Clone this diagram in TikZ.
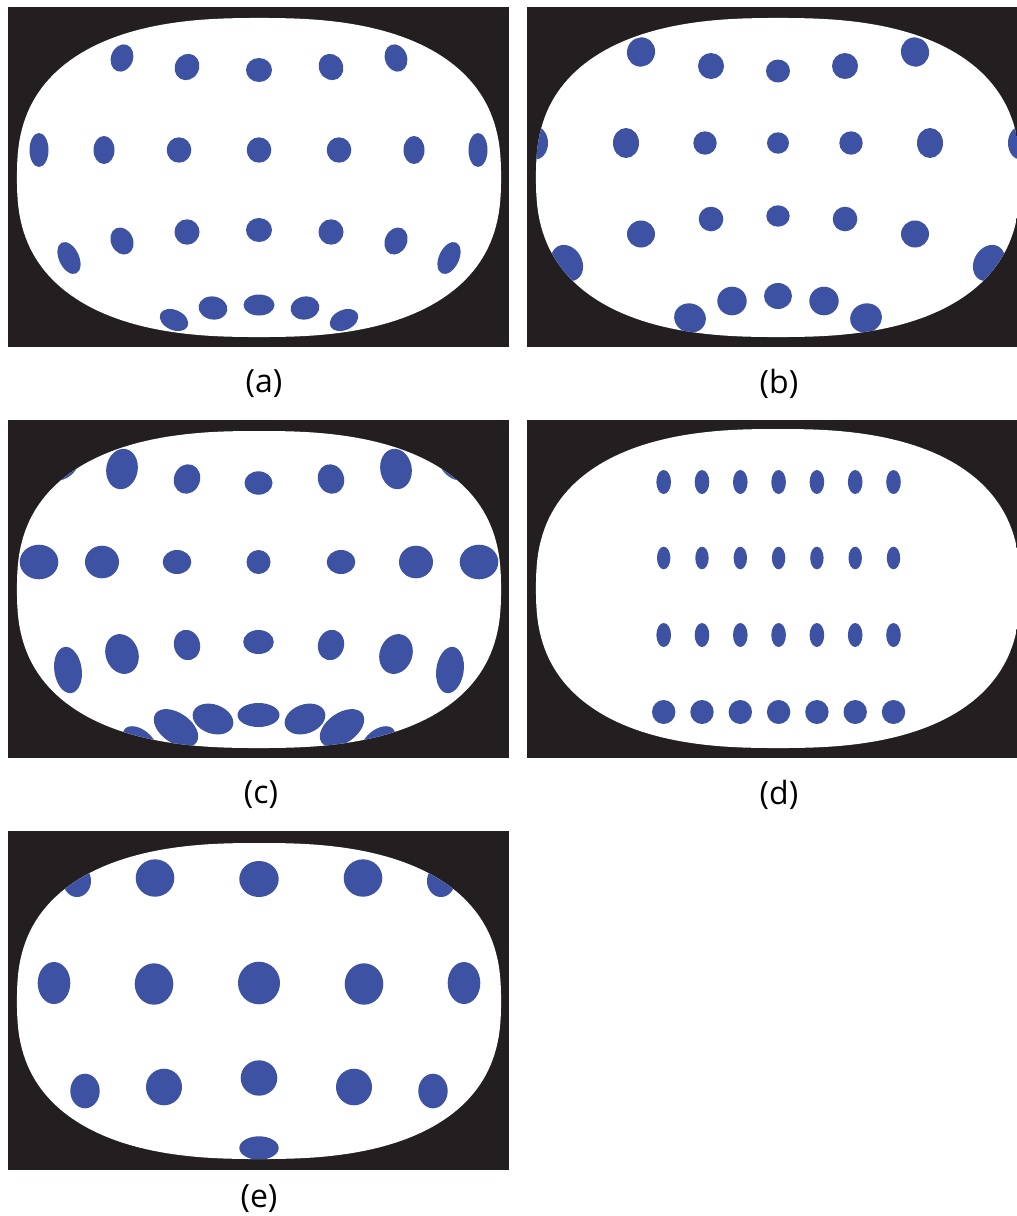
\documentclass[tikz,border=0pt]{standalone}
\usepackage{fontspec}
\setmainfont{Open Sans}
\definecolor{dotc}{RGB}{61,82,163}
\definecolor{bk}{RGB}{35,31,32}
\newcommand\sqell[4]{plot[domain=1:361,samples=181] ({#1+#3*sign(cos(\x))*abs(cos(\x))^0.8},{#2+#4*sign(sin(\x))*abs(sin(\x))^0.8}) -- cycle}
\newcommand\dt[5]{\fill[dotc,rotate around={#5:(#1,#2)}] (#1,#2) ellipse [x radius=#3,y radius=#4];}
\tikzset{lab/.style={font=\fontsize{32}{36}\selectfont, inner sep=0pt}}
\begin{document}
\begin{tikzpicture}[x=1pt,y=-1pt]
\useasboundingbox (0,0) rectangle (1017,1216);
\clip (0,0) rectangle (1017,1216);
\fill[white] (0,0) rectangle (1017,1216);
% (a)
\fill[bk] (8,7) rectangle (509,347);
\begin{scope}
\clip \sqell{259}{177.5}{242}{159.5};
\fill[white] (0,0) rectangle (1017,1216);
\dt{122}{58}{11}{14}{-20}\dt{187}{67}{12}{13.5}{-30}\dt{259}{70}{13}{12}{0}\dt{331}{67}{12}{13.5}{30}\dt{396}{58}{11}{14}{20}
\dt{39}{150}{9.5}{17}{0}\dt{104}{150}{10.5}{14}{0}\dt{179}{150}{12.3}{12.7}{0}\dt{259}{150}{12.3}{12.7}{0}\dt{339}{150}{12.3}{12.7}{0}\dt{414}{150}{10.5}{14}{0}\dt{478}{150}{9.5}{17}{0}
\dt{69}{258}{10}{17}{25}\dt{122}{241}{11}{14}{25}\dt{187}{232}{12.5}{12.7}{0}\dt{259}{230}{13}{12}{0}\dt{331}{232}{12.5}{12.7}{0}\dt{396}{241}{11}{14}{-25}\dt{449}{258}{10}{17}{-25}
\dt{174}{320}{15}{10}{-25}\dt{213}{308}{14.5}{11.5}{-10}\dt{259}{305}{15.5}{10.5}{0}\dt{305}{308}{14.5}{11.5}{10}\dt{344}{320}{15}{10}{25}
\end{scope}
% (b)
\fill[bk] (527,7) rectangle (1028,347);
\begin{scope}
\clip \sqell{778}{177.5}{242}{159.5};
\fill[white] (0,0) rectangle (1017,1216);
\dt{641}{52}{14}{14.7}{-20}\dt{711}{66}{13}{13}{0}\dt{778}{71}{12}{11.5}{0}\dt{845}{66}{13}{13}{0}\dt{915}{52}{14}{14.7}{20}
\dt{535}{143}{13}{16.7}{0}\dt{626}{143}{13}{15}{0}\dt{705}{143}{11.7}{11.7}{0}\dt{778}{143}{11}{10.7}{0}\dt{851}{143}{11.7}{11.7}{0}\dt{930}{143}{13}{15}{0}\dt{1021}{143}{13}{16.7}{0}
\dt{567}{263}{15}{19}{30}\dt{641}{234}{14}{13.5}{0}\dt{711}{219}{12.3}{12.3}{0}\dt{778}{216}{11.7}{10.7}{0}\dt{845}{219}{12.3}{12.3}{0}\dt{915}{234}{14}{13.5}{0}\dt{989}{263}{15}{19}{-30}
\dt{690}{318}{16}{14.5}{-20}\dt{732}{301}{14.7}{14.3}{0}\dt{778}{296}{14}{13}{0}\dt{824}{301}{14.7}{14.3}{0}\dt{866}{318}{16}{14.5}{20}
\end{scope}
% (c)
\fill[bk] (8,420) rectangle (509,758);
\begin{scope}
\clip \sqell{259}{589.5}{242}{158.5};
\fill[white] (0,0) rectangle (1017,1216);
\dt{62}{460}{17}{22}{-35}\dt{122}{469}{15.7}{20.3}{-10}\dt{187}{479}{13}{15}{-20}\dt{258.5}{483}{14}{11.7}{0}\dt{331}{479}{13}{15}{20}\dt{396}{469}{15.7}{20.3}{10}\dt{456}{460}{17}{22}{35}
\dt{39}{562}{19.3}{17.3}{0}\dt{102}{562}{17}{16.3}{0}\dt{177}{562}{14.3}{12}{0}\dt{258.5}{562}{12}{12}{0}\dt{341}{562}{14.3}{12}{0}\dt{416}{562}{17}{16.3}{0}\dt{479}{562}{19.3}{17.3}{0}
\dt{68}{670}{13.7}{23.3}{8}\dt{122}{654}{16.3}{20.3}{20}\dt{187}{645}{13}{15.3}{15}\dt{258.5}{642}{15.3}{12}{0}\dt{331}{645}{13}{15.3}{-15}\dt{396}{654}{16.3}{20.3}{-20}\dt{450}{670}{13.7}{23.3}{-8}
\dt{140}{742}{20}{12}{-40}\dt{176}{728}{25}{15}{-35}\dt{213}{719}{21}{14.5}{-20}\dt{258.5}{715}{21}{12}{0}\dt{305}{719}{21}{14.5}{20}\dt{342}{728}{25}{15}{35}\dt{378}{742}{20}{12}{40}
\end{scope}
% (d)
\fill[bk] (527,420) rectangle (1028,758);
\begin{scope}
\clip \sqell{778}{588.5}{242}{159.5};
\fill[white] (0,0) rectangle (1017,1216);
\foreach \i in {0,...,6}{
  \pgfmathsetmacro\xx{663.7+38.3*\i}
  \dt{\xx}{482}{7.3}{12}{0}
  \dt{\xx}{558}{6.7}{11.3}{0}
  \dt{\xx}{635}{7.3}{12}{0}
  \dt{\xx}{712}{11.7}{12}{0}
}
\end{scope}
% (e)
\fill[bk] (8,831) rectangle (509,1170);
\begin{scope}
\clip \sqell{259}{1001}{242}{158};
\fill[white] (0,0) rectangle (1017,1216);
\dt{77}{881}{14}{16}{0}\dt{155}{878}{19.3}{18.7}{0}\dt{259}{879}{19.7}{18}{0}\dt{363}{878}{19.3}{18.7}{0}\dt{441}{881}{14}{16}{0}
\dt{54}{983}{16.3}{21}{0}\dt{154}{984}{19.3}{20.7}{0}\dt{259}{983}{21}{21.3}{0}\dt{364}{984}{19.3}{20.7}{0}\dt{464}{983}{16.3}{21}{0}
\dt{85}{1091}{14.7}{17.3}{0}\dt{164}{1087}{18}{18.3}{0}\dt{259}{1078}{18.3}{17.7}{0}\dt{354}{1087}{18}{18.3}{0}\dt{433}{1091}{14.7}{17.3}{0}
\dt{259}{1148}{19.7}{11.7}{0}
\end{scope}
% labels
\node[lab] (la) at (264,384) {(a)};
\node[lab] (lb) at (779,384) {(b)};
\node[lab] (lc) at (261,795) {(c)};
\node[lab] (ld) at (779,795) {(d)};
\node[lab] (le) at (259,1199) {(e)};
\end{tikzpicture}
\end{document}
